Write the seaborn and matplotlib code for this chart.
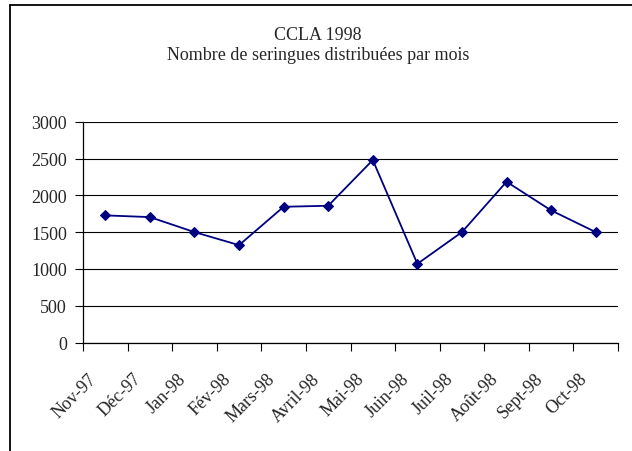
import numpy as np
import matplotlib.pyplot as plt
import matplotlib.transforms as mtransforms
from matplotlib.lines import Line2D
import seaborn as sns

# Données
mois = ['Nov-97', 'Déc-97', 'Jan-98', 'Fév-98', 'Mars-98', 'Avril-98',
        'Mai-98', 'Juin-98', 'Juil-98', 'Août-98', 'Sept-98', 'Oct-98']
seringues = [1727, 1704, 1500, 1323, 1844, 1858, 2479, 1069, 1500, 2184, 1795, 1500]
yticks = [0, 500, 1000, 1500, 2000, 2500, 3000]

sns.set_theme(style="white")
plt.rcParams['font.family'] = ['Liberation Serif', 'DejaVu Serif']

W, H = 632, 452
fig = plt.figure(figsize=(W / 100, H / 100), dpi=100)
ax = fig.add_axes([83 / W, 1 - 343.5 / H, 535 / W, 220.8 / H])

sns.lineplot(x=mois, y=seringues, ax=ax, sort=False, color='#000080',
             marker='D', markersize=5.5, markeredgecolor='#000080',
             linewidth=1.3)

# Axe Y
ax.set_ylim(0, 3000)
ax.set_yticks(yticks)
ax.yaxis.grid(True, color='black', linewidth=0.8)
ax.tick_params(axis='y', direction='out', length=6, width=0.8, color='black',
               pad=5.5, labelsize=13, left=True)

# Axe X : graduations entre les catégories
ax.set_xlim(-0.5, len(mois) - 0.5)
ax.set_xticks(np.arange(len(mois)), labels=mois)
ax.set_xticks(np.arange(-0.5, len(mois)), minor=True)
ax.tick_params(axis='x', which='major', length=0, pad=24, labelsize=13)
ax.tick_params(axis='x', which='minor', direction='out', length=6, width=0.8,
               color='black', bottom=True)
offset = mtransforms.ScaledTranslation(-11 / 100, 0, fig.dpi_scale_trans)
for lab in ax.get_xticklabels():
    lab.set_rotation(45)
    lab.set_rotation_mode('anchor')
    lab.set_ha('right')
    lab.set_va('center')
    lab.set_transform(lab.get_transform() + offset)

ax.set_xlabel('')
ax.set_ylabel('')
sns.despine(ax=ax)
for side in ['left', 'bottom']:
    ax.spines[side].set_color('black')
    ax.spines[side].set_linewidth(0.9)

# Titre
fig.text(0.503, 1 - 40 / H, 'CCLA 1998', ha='center', va='baseline', fontsize=13)
fig.text(0.503, 1 - 59.5 / H, 'Nombre de seringues distribuées par mois',
         ha='center', va='baseline', fontsize=13)

# Cadre du graphique
fig.add_artist(Line2D([10 / W, 10 / W], [0, 1 - 5.5 / H], transform=fig.transFigure,
                      color='black', linewidth=1.3))
fig.add_artist(Line2D([10 / W, 1], [1 - 5.5 / H, 1 - 5.5 / H], transform=fig.transFigure,
                      color='black', linewidth=1.3))

fig.savefig('out.png', dpi=100)
